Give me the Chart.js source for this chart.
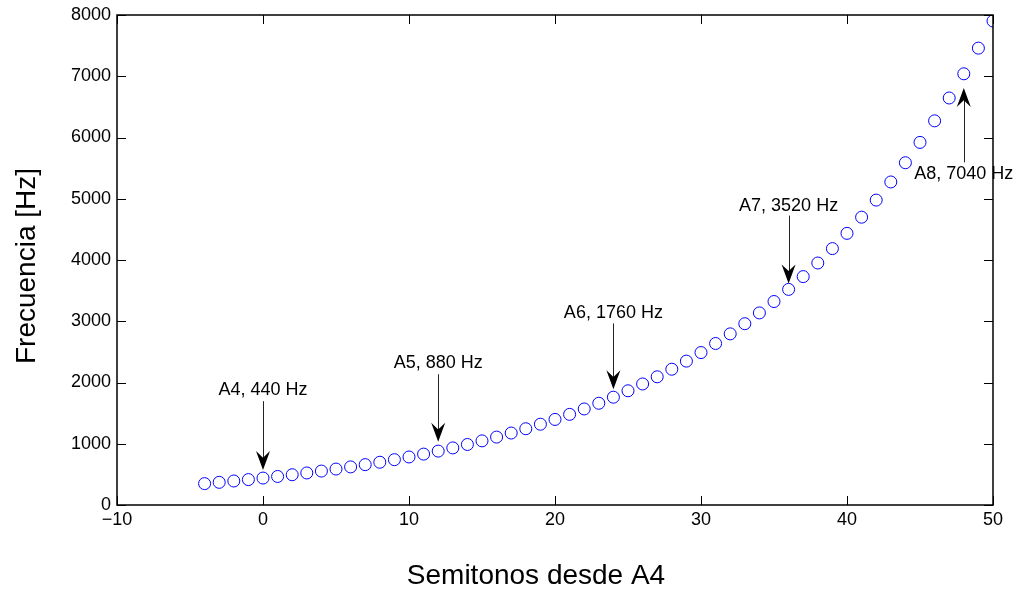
<!DOCTYPE html>
<html>
<head>
<meta charset="utf-8">
<script src="https://cdn.jsdelivr.net/npm/chart.js@4"></script>
<style>
  html, body { margin: 0; padding: 0; background: #fff; }
  #wrap { width: 1021px; height: 592px; }
</style>
</head>
<body>
<div id="wrap"><canvas id="myChart" width="1021" height="592"></canvas></div>
<script>
// semitonos desde A4 y frecuencias
const semitonos = [-4, -3, -2, -1, 0, 1, 2, 3, 4, 5, 6, 7, 8, 9, 10, 11, 12, 13, 14, 15,
  16, 17, 18, 19, 20, 21, 22, 23, 24, 25, 26, 27, 28, 29, 30, 31, 32, 33, 34, 35,
  36, 37, 38, 39, 40, 41, 42, 43, 44, 45, 46, 47, 48, 49, 50];
const frecuencias = [349, 370, 392, 415, 440, 466, 494, 523, 554, 587, 622, 659, 698, 740, 784, 831,
  880, 932, 988, 1047, 1109, 1175, 1245, 1319, 1397, 1480, 1568, 1661, 1760, 1865, 1976, 2093,
  2217, 2349, 2489, 2637, 2794, 2960, 3136, 3322, 3520, 3729, 3951, 4186, 4435, 4699, 4978,
  5274, 5588, 5920, 6272, 6645, 7040, 7459, 7902];
const ticksX = [-10, 0, 10, 20, 30, 40, 50];
const ticksY = [0, 1000, 2000, 3000, 4000, 5000, 6000, 7000, 8000];

// etiquetas de las notas A
const notas = ['A4, 440 Hz', 'A5, 880 Hz', 'A6, 1760 Hz', 'A7, 3520 Hz', 'A8, 7040 Hz'];
const notasX = [0, 12, 24, 36, 48];
// posición del texto, inicio y punta de la flecha (en Hz)
const textoY = [1874, 2318, 3133, 4888, 5409];
const flechaDesde = [1695, 2134, 2965, 4725, 5594];
const flechaHasta = [570, 1031, 1890, 3617, 6810];

const fuente = '"Liberation Sans", Arial, sans-serif';

const minus = v => String(v).replace('-', '\u2212');

const marco = {
  id: 'marco',
  afterDraw(chart) {
    const c = chart.ctx, a = chart.chartArea;
    const sx = chart.scales.x, sy = chart.scales.y;
    c.save();
    c.strokeStyle = '#000';
    c.lineWidth = 1.5;
    c.strokeRect(Math.round(a.left), Math.round(a.top),
      Math.round(a.right - a.left), Math.round(a.bottom - a.top));
    // marcas hacia dentro
    c.lineWidth = 1;
    c.beginPath();
    ticksX.forEach(v => {
      const p = Math.round(sx.getPixelForValue(v)) + 0.5;
      c.moveTo(p, a.bottom); c.lineTo(p, a.bottom - 9);
      c.moveTo(p, a.top); c.lineTo(p, a.top + 9);
    });
    ticksY.forEach(v => {
      const p = Math.round(sy.getPixelForValue(v)) + 0.5;
      c.moveTo(a.left, p); c.lineTo(a.left + 9, p);
      c.moveTo(a.right, p); c.lineTo(a.right - 9, p);
    });
    c.stroke();

    // flechas y textos
    c.fillStyle = '#000';
    c.font = '18px ' + fuente;
    c.textAlign = 'center';
    c.textBaseline = 'middle';
    notas.forEach((t, i) => {
      const x = sx.getPixelForValue(notasX[i]);
      c.fillText(t, x, sy.getPixelForValue(textoY[i]));
      const y0 = sy.getPixelForValue(flechaDesde[i]);
      const y1 = sy.getPixelForValue(flechaHasta[i]);
      const dir = y1 > y0 ? 1 : -1;
      const len = 19, hw = 7;
      c.beginPath();
      c.strokeStyle = '#222';
      c.moveTo(Math.round(x) + 0.5, y0);
      c.lineTo(Math.round(x) + 0.5, y1 - dir * len * 0.5);
      c.stroke();
      c.beginPath();
      c.moveTo(x, y1);
      c.lineTo(x - hw, y1 - dir * len);
      c.lineTo(x, y1 - dir * len * 0.65);
      c.lineTo(x + hw, y1 - dir * len);
      c.closePath();
      c.fill();
    });

    // títulos de los ejes
    c.font = '28px ' + fuente;
    c.textBaseline = 'alphabetic';
    c.fillText('Semitonos desde A4', 536, 584);
    c.translate(35, 266);
    c.rotate(-Math.PI / 2);
    c.fillText('Frecuencia [Hz]', 0, 0);
    c.restore();
  }
};

const ctx = document.getElementById('myChart').getContext('2d');
const myChart = new Chart(ctx, {
  type: 'scatter',
  data: {
    datasets: [{
      data: semitonos.map((s, i) => ({ x: s, y: frecuencias[i] })),
      pointStyle: 'circle',
      pointRadius: 6,
      pointHoverRadius: 6,
      borderColor: '#0000ff',
      backgroundColor: 'rgba(0,0,0,0)',
      borderWidth: 1,
      showLine: false
    }]
  },
  options: {
    responsive: false,
    animation: false,
    layout: { padding: { top: 14, right: 28, left: 0, bottom: 0 } },
    plugins: { legend: { display: false }, tooltip: { enabled: false } },
    scales: {
      x: {
        type: 'linear', min: -10, max: 50,
        afterBuildTicks: s => { s.ticks = ticksX.map(v => ({ value: v })); },
        afterFit: s => { s.height = 87; },
        grid: { display: false, drawTicks: false },
        border: { display: false },
        ticks: { color: '#000', font: { family: fuente, size: 18, lineHeight: 1 }, padding: 6, maxRotation: 0, callback: minus }
      },
      y: {
        type: 'linear', min: 0, max: 8000,
        afterBuildTicks: s => { s.ticks = ticksY.map(v => ({ value: v })); },
        afterFit: s => { s.width = 117; },
        grid: { display: false, drawTicks: false },
        border: { display: false },
        ticks: { color: '#000', font: { family: fuente, size: 18, lineHeight: 1 }, padding: 6, callback: minus }
      }
    }
  },
  plugins: [marco]
});
</script>
</body>
</html>
